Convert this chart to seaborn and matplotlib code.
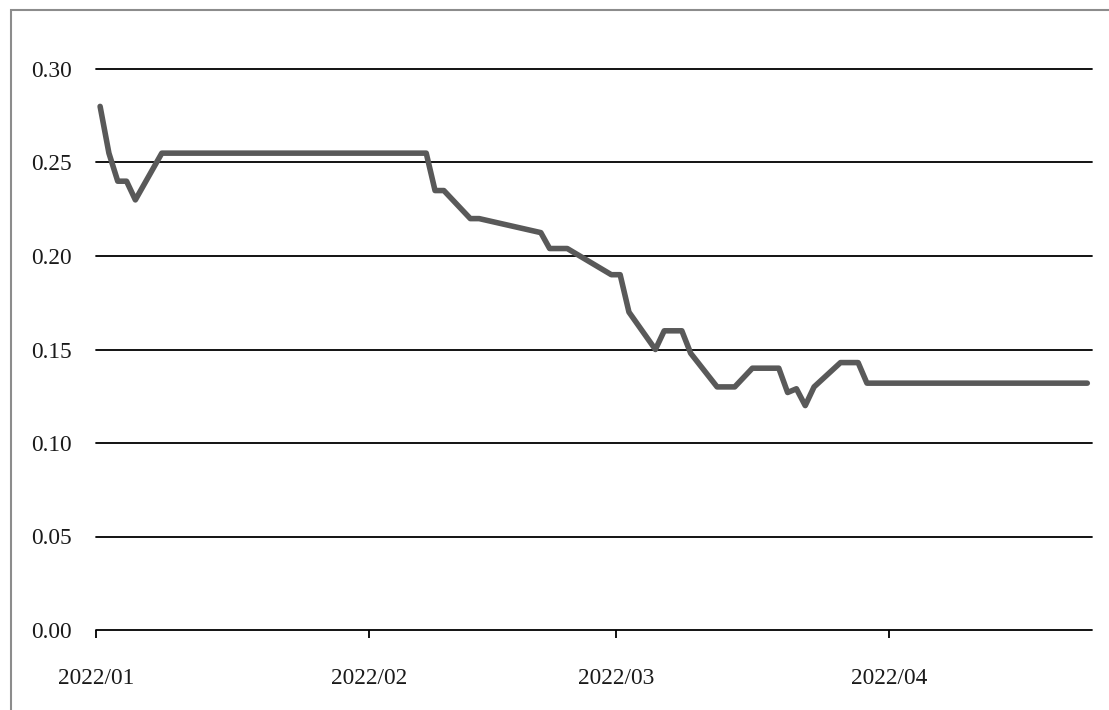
import matplotlib
matplotlib.use("Agg")
import matplotlib.pyplot as plt
import matplotlib.dates as mdates
from matplotlib.patches import Rectangle
import seaborn as sns
import pandas as pd

# ---- data ----
dates = ["2022-01-01", "2022-01-02", "2022-01-03", "2022-01-04", "2022-01-05",
         "2022-01-08", "2022-02-07", "2022-02-08", "2022-02-09", "2022-02-12",
         "2022-02-13", "2022-02-20", "2022-02-21", "2022-02-23", "2022-02-28",
         "2022-03-01", "2022-03-02", "2022-03-05", "2022-03-06", "2022-03-08",
         "2022-03-09", "2022-03-12", "2022-03-14", "2022-03-16", "2022-03-19",
         "2022-03-20", "2022-03-21", "2022-03-22", "2022-03-23", "2022-03-26",
         "2022-03-28", "2022-03-29", "2022-04-23"]
values = [0.280, 0.255, 0.240, 0.240, 0.230,
          0.255, 0.255, 0.235, 0.235, 0.220,
          0.220, 0.2125, 0.204, 0.204, 0.190,
          0.190, 0.170, 0.150, 0.160, 0.160,
          0.148, 0.130, 0.130, 0.140, 0.140,
          0.127, 0.129, 0.120, 0.130, 0.143,
          0.143, 0.132, 0.132]
month_ticks = ["2022-01-01", "2022-02-01", "2022-03-01", "2022-04-01"]
y_ticks = [0.00, 0.05, 0.10, 0.15, 0.20, 0.25, 0.30]

df = pd.DataFrame({"date": pd.to_datetime(dates) + pd.Timedelta(hours=12),
                   "value": values})

sns.set_theme(style="white")
plt.rcParams["font.family"] = ["Liberation Serif", "DejaVu Serif"]

W, H = 1109, 710
fig = plt.figure(figsize=(W / 100, H / 100), dpi=100)
fig.patch.set_facecolor("white")

x0, x1 = 95.7, 1091.7
y0 = 630.0
ytop_val = 0.31
ytop_px = y0 - ytop_val * 1870
ax = fig.add_axes([x0 / W, 1 - y0 / H, (x1 - x0) / W, (y0 - ytop_px) / H])

sns.lineplot(data=df, x="date", y="value", ax=ax, color="#595959",
             linewidth=4.0, solid_capstyle="round", solid_joinstyle="round",
             zorder=3)

ax.set_xlim(pd.Timestamp("2022-01-01"), pd.Timestamp("2022-04-24"))
ax.set_ylim(0, ytop_val)
ax.set_yticks(y_ticks)
ax.set_yticklabels([f"{v:.2f}" for v in y_ticks])
ax.set_xticks(pd.to_datetime(month_ticks))
ax.xaxis.set_major_formatter(mdates.DateFormatter("%Y/%m"))

for v in y_ticks:
    ax.axhline(v, color="black", linewidth=1.3, zorder=2, clip_on=False)

for s in ax.spines.values():
    s.set_visible(False)

ax.tick_params(axis="x", which="major", direction="out", length=5.5, width=1.3,
               color="black", pad=21.5, labelsize=16.8, labelcolor="#1a1a1a",
               bottom=True)
ax.tick_params(axis="y", which="major", length=0, pad=17.5, labelsize=16.8,
               labelcolor="#1a1a1a")
ax.set_xlabel("")
ax.set_ylabel("")
ax.grid(False)

# outer frame (cropped border)
fig.add_artist(Rectangle((11 / W, -0.2), 1.5, 1.2 - 10 / H,
                         transform=fig.transFigure, fill=False,
                         edgecolor="#8c8c8c", linewidth=1.5, zorder=0))

fig.savefig("out.png", dpi=100, facecolor="white")
